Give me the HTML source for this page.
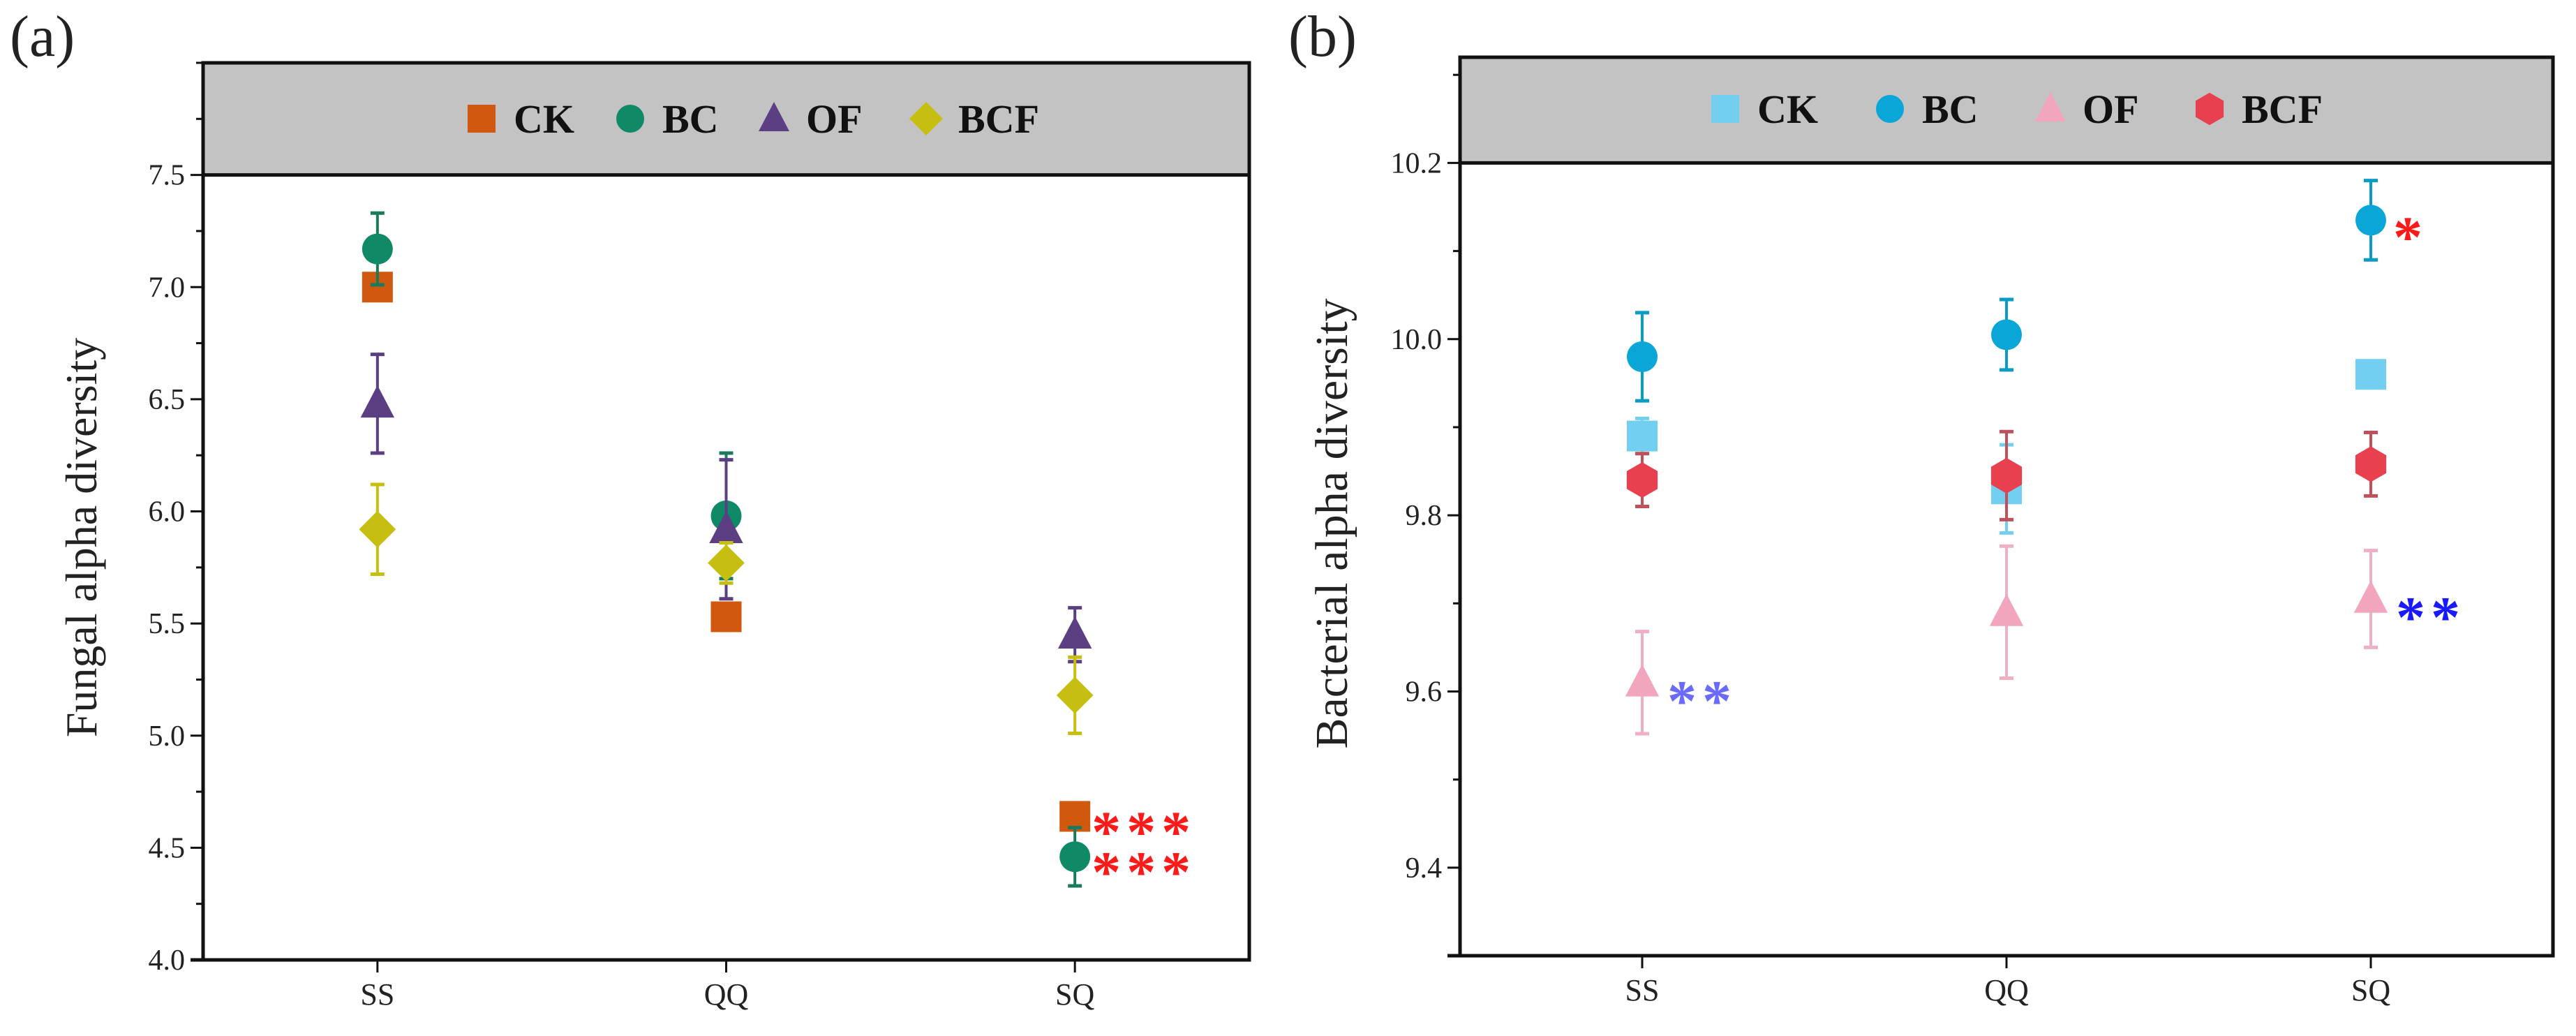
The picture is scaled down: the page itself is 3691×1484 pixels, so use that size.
<!DOCTYPE html>
<html><head><meta charset="utf-8"><style>
html,body{margin:0;padding:0;background:#fff}
svg{display:block;font-family:"Liberation Serif",serif}
</style></head><body>
<svg id="fig" width="3691" height="1484" viewBox="0 0 3691 1484" xmlns="http://www.w3.org/2000/svg"></svg>
<script>
// ---- shared categories ----
const categories = ["SS","QQ","SQ"];
// ---- panel (a) fungal data ----
const aSeriesNames = ["CK","BC","OF","BCF"];
const aCK = [7.00, 5.53, 4.64];
const aCKerr = [0.05, 0.06, 0.03];
const aBC = [7.17, 5.98, 4.46];
const aBCerr = [0.16, 0.28, 0.13];
const aOF = [6.48, 5.92, 5.45];
const aOFerr = [0.22, 0.31, 0.12];
const aBCF = [5.92, 5.77, 5.18];
const aBCFerr = [0.20, 0.09, 0.17];
const aTicks = [4.0,4.5,5.0,5.5,6.0,6.5,7.0,7.5];
// ---- panel (b) bacterial data ----
const bCK = [9.89, 9.83, 9.96];
const bCKerr = [0.02, 0.05, 0.01];
const bBC = [9.98, 10.005, 10.135];
const bBCerr = [0.05, 0.04, 0.045];
const bOF = [9.61, 9.69, 9.705];
const bOFerr = [0.058, 0.075, 0.055];
const bBCF = [9.84, 9.845, 9.858];
const bBCFerr = [0.03, 0.05, 0.036];
const bTicks = [9.4,9.6,9.8,10.0,10.2];

const NS="http://www.w3.org/2000/svg";
const svg=document.getElementById('fig');
function mk(tag,attrs,parent){const e=document.createElementNS(NS,tag);for(const k in attrs)e.setAttribute(k,attrs[k]);(parent||svg).appendChild(e);return e;}

function marker(g,shape,cx,cy,s,color){
  let e;
  if(shape==='square'){e=mk('rect',{x:cx-s/2,y:cy-s/2,width:s,height:s,fill:color},g);}
  else if(shape==='circle'){e=mk('circle',{cx:cx,cy:cy,r:s/2,fill:color},g);}
  else if(shape==='triangle'){e=mk('polygon',{points:`${cx},${cy-s*0.6} ${cx-s*0.55},${cy+s*0.45} ${cx+s*0.55},${cy+s*0.45}`,fill:color},g);}
  else if(shape==='diamond'){e=mk('polygon',{points:`${cx},${cy-s*0.6} ${cx+s*0.6},${cy} ${cx},${cy+s*0.6} ${cx-s*0.6},${cy}`,fill:color},g);}
  else if(shape==='hexagon'){const r=s*0.58;let p=[];for(let i=0;i<6;i++){const a=Math.PI/6+i*Math.PI/3;p.push((cx+r*Math.cos(a))+','+(cy+r*Math.sin(a)));}e=mk('polygon',{points:p.join(' '),fill:color},g);}
  return e;
}

function panel(cfg){
  const g=mk('g',{});
  
  
  const {L,R,T,B,ymin,ymax,grayBottomVal}=cfg;
  const y=v=>B-(v-ymin)/(ymax-ymin)*(B-T);
  const bw=(R-L)/categories.length;
  const x=i=>L+bw*(i+0.5);
  const gb=y(grayBottomVal);
  const gray=mk('rect',{x:L,y:T,width:R-L,height:gb-T,fill:'#c3c3c3'},g);
  
  const frame=mk('rect',{x:L,y:T,width:R-L,height:B-T,fill:'none',stroke:'#111','stroke-width':5},g);
  
  mk('line',{x1:L,y1:gb,x2:R,y2:gb,stroke:'#111','stroke-width':5},g);
  mk('line',{x1:L-18,y1:B,x2:R,y2:B,stroke:'#111','stroke-width':5},g);
  for(let v=ymin;v<=ymax+1e-9;v+=cfg.minor){
    const vv=Math.round(v*1000)/1000;
    const isMajor=cfg.ticks.some(t=>Math.abs(t-vv)<1e-6);
    mk('line',{x1:L-(isMajor?18:10),y1:y(vv),x2:L,y2:y(vv),stroke:'#111','stroke-width':3},g);
  }
  cfg.ticks.forEach(t=>{
    const tl=mk('text',{x:L-26,y:y(t)+14,'text-anchor':'end','font-size':42,fill:'#222'},g);
    tl.textContent=t.toFixed(1);
    
    
  });
  categories.forEach((c,i)=>{
    mk('line',{x1:x(i),y1:B,x2:x(i),y2:B+18,stroke:'#111','stroke-width':3},g);
    const tl=mk('text',{x:x(i),y:B+64,'text-anchor':'middle','font-size':44,fill:'#222'},g);
    tl.textContent=c;
    
    
  });
  const yl=mk('text',{x:0,y:0,transform:`translate(${cfg.ylabelX},${cfg.ylabelY}) rotate(-90)`,'text-anchor':'middle','font-size':cfg.ylabelSize,fill:'#222'},g);
  yl.textContent=cfg.ylabel;
  
  
  const pl=mk('text',{x:cfg.labX,y:80,'font-size':84,fill:'#222'},g);
  pl.textContent=cfg.letter;
  
  
  cfg.series.forEach(s=>{
    const sg=mk('g',{},g);
    
    
    s.vals.forEach((v,i)=>{
      const cx=x(i),e=s.err[i];
      mk('line',{x1:cx,y1:y(v-e),x2:cx,y2:y(v+e),stroke:s.ecolor,'stroke-width':4},sg);
      mk('line',{x1:cx-10,y1:y(v+e),x2:cx+10,y2:y(v+e),stroke:s.ecolor,'stroke-width':5},sg);
      mk('line',{x1:cx-10,y1:y(v-e),x2:cx+10,y2:y(v-e),stroke:s.ecolor,'stroke-width':5},sg);
      const m=marker(sg,s.shape,cx,y(v),44,s.color);
      
      
    });
    const lm=marker(g,s.shape,s.lx,cfg.legY,40,s.color);
    
    
    const lt=mk('text',{x:s.lx+46,y:cfg.legY+20,'font-size':58,'font-weight':'bold',fill:'#111'},g);
    lt.textContent=s.name;
    
    
  });
  cfg.stars.forEach(st=>{
    const t=mk('text',{x:x(st.i)+st.dx,y:y(st.v)+st.dy,'font-size':84,'font-weight':'bold',fill:st.color,'letter-spacing':8},g);
    t.textContent=st.text;
    
    
  });
}

panel({name:'panel-a-fungal',letter:'(a)',labX:14,L:291,R:1790,T:90,B:1375,ymin:4.0,ymax:8.0,grayBottomVal:7.5,minor:0.25,ticks:aTicks,
  ylabel:'Fungal alpha diversity',ylabelX:138,ylabelY:770,ylabelSize:64,legY:170,
  series:[
    {name:'CK',vals:aCK,err:aCKerr,shape:'square',color:'#d0580f',ecolor:'#c8703a',lx:690},
    {name:'BC',vals:aBC,err:aBCerr,shape:'circle',color:'#108a66',ecolor:'#1c7a5c',lx:903},
    {name:'OF',vals:aOF,err:aOFerr,shape:'triangle',color:'#5b3f82',ecolor:'#5b3f82',lx:1109},
    {name:'BCF',vals:aBCF,err:aBCFerr,shape:'diamond',color:'#c6bf12',ecolor:'#c6bf12',lx:1327}
  ],
  stars:[{i:2,v:aCK[2],dx:24,dy:50,text:'***',color:'#ff1a1a'},{i:2,v:aBC[2],dx:24,dy:50,text:'***',color:'#ff1a1a'}]
});
panel({name:'panel-b-bacterial',letter:'(b)',labX:1846,L:2092,R:3658,T:82,B:1369,ymin:9.3,ymax:10.32,grayBottomVal:10.2,minor:0.1,ticks:bTicks,
  ylabel:'Bacterial alpha diversity',ylabelX:1930,ylabelY:750,ylabelSize:66,legY:156,
  series:[
    {name:'CK',vals:bCK,err:bCKerr,shape:'square',color:'#72cff0',ecolor:'#72cff0',lx:2472},
    {name:'BC',vals:bBC,err:bBCerr,shape:'circle',color:'#0aa6d8',ecolor:'#0a9cc4',lx:2708},
    {name:'OF',vals:bOF,err:bOFerr,shape:'triangle',color:'#f2a6bd',ecolor:'#eeb0c2',lx:2938},
    {name:'BCF',vals:bBCF,err:bBCFerr,shape:'hexagon',color:'#e8404e',ecolor:'#c0505a',lx:3166}
  ],
  stars:[{i:2,v:bBC[2],dx:32,dy:52,text:'*',color:'#ff1a1a'},{i:0,v:bOF[0],dx:36,dy:54,text:'**',color:'#6a6aff'},{i:2,v:bOF[2],dx:36,dy:54,text:'**',color:'#1a1aff'}]
});
</script>
</body></html>
